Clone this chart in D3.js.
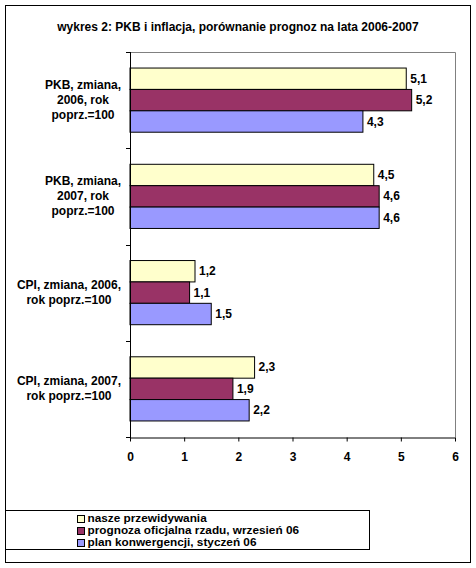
<!DOCTYPE html>
<html lang="pl">
<head>
  <meta charset="UTF-8">
  <title>wykres 2: PKB i inflacja</title>
  <script src="https://d3js.org/d3.v7.min.js"></script>
</head>
<body style="margin: 0; background: #fff;">
<svg id="chart" width="476" height="568"></svg>
<script>
  // data
  const categories = [
    ["PKB, zmiana,", "2006, rok", "poprz.=100"],
    ["PKB, zmiana,", "2007, rok", "poprz.=100"],
    ["CPI, zmiana, 2006,", "rok poprz.=100"],
    ["CPI, zmiana, 2007,", "rok poprz.=100"]
  ];
  const seriesNames = [
    "nasze przewidywania",
    "prognoza oficjalna rzadu, wrzesień 06",
    "plan konwergencji, styczeń 06"
  ];
  const nasze = [5.1, 4.5, 1.2, 2.3];
  const rzad = [5.2, 4.6, 1.1, 1.9];
  const konwergencja = [4.3, 4.6, 1.5, 2.2];
  const xTicks = [0, 1, 2, 3, 4, 5, 6];
  const colors = ["#FFFFCC", "#993366", "#9999FF"];

  const series = [nasze, rzad, konwergencja];
  const font = "Arial, 'Liberation Sans', sans-serif";
  const fs = "12px";

  const svg = d3.select("#chart");

  // outer frame
  svg.append("rect")
    .attr("x", 5.5).attr("y", 5.5)
    .attr("width", 465).attr("height", 557)
    .attr("fill", "#fff").attr("stroke", "#000").attr("stroke-width", 1);

  svg.append("text")
    .attr("x", 238).attr("y", 31)
    .attr("text-anchor", "middle")
    .style("font-family", font).style("font-size", fs).style("font-weight", "bold")
    .text("wykres 2: PKB i inflacja, porównanie prognoz na lata 2006-2007");

  const plot = { left: 130, right: 455, top: 52, bottom: 437 };

  const x = d3.scaleLinear().domain([0, 6]).range([plot.left, plot.right]);
  const y = d3.scaleBand().domain(d3.range(categories.length))
    .range([plot.top, plot.bottom]).paddingInner(0).paddingOuter(0);
  const inner = d3.scaleBand().domain(d3.range(series.length))
    .range([0, y.bandwidth()]).paddingOuter(0.75).paddingInner(0);

  // plot area border (grey top/right)
  svg.append("path")
    .attr("d", `M${plot.left},${plot.top + 0.5}H${plot.right + 0.5}V${plot.bottom}`)
    .attr("fill", "none").attr("stroke", "#808080");

  // bars
  series.forEach((vals, si) => {
    svg.append("g").selectAll("rect")
      .data(vals)
      .enter().append("rect")
      .attr("x", x(0))
      .attr("y", (d, i) => y(i) + inner(si))
      .attr("width", d => x(d) - x(0))
      .attr("height", inner.bandwidth())
      .attr("fill", colors[si])
      .attr("stroke", "#000").attr("stroke-width", 1);

    svg.append("g").selectAll("text")
      .data(vals)
      .enter().append("text")
      .attr("x", d => x(d) + 4)
      .attr("y", (d, i) => y(i) + inner(si) + inner.bandwidth() / 2 + 4)
      .style("font-family", font).style("font-size", fs).style("font-weight", "bold")
      .text(d => d.toFixed(1).replace(".", ","));
  });

  // x axis
  const xAxis = svg.append("g")
    .attr("transform", `translate(0,${plot.bottom + 0.5})`)
    .call(d3.axisBottom(x).tickValues(xTicks).tickSize(4).tickSizeOuter(0).tickPadding(11)
      .tickFormat(d3.format("d")));
  xAxis.select(".domain").attr("stroke", "#000");
  xAxis.selectAll("text")
    .style("font-family", font).style("font-size", fs).style("font-weight", "bold")
    .attr("fill", "#000");

  // y axis (category boundary ticks)
  const bounds = d3.range(categories.length + 1).map(i => plot.top + i * y.step());
  svg.append("line")
    .attr("x1", plot.left + 0.5).attr("x2", plot.left + 0.5)
    .attr("y1", plot.top).attr("y2", plot.bottom + 4)
    .attr("stroke", "#000");
  svg.append("g").selectAll("line")
    .data(bounds)
    .enter().append("line")
    .attr("x1", plot.left - 4).attr("x2", plot.left)
    .attr("y1", d => Math.round(d) + 0.5).attr("y2", d => Math.round(d) + 0.5)
    .attr("stroke", "#000");

  // category labels: block right-aligned near the axis, lines centred in block
  const labelRight = 121;
  categories.forEach((lines, i) => {
    const cy = y(i) + y.bandwidth() / 2;
    const lh = 15;
    const t = svg.append("text")
      .attr("text-anchor", "middle")
      .style("font-family", font).style("font-size", fs).style("font-weight", "bold");
    const spans = lines.map((ln, j) => t.append("tspan")
      .attr("y", cy + (j - (lines.length - 1) / 2) * lh + 4)
      .text(ln));
    const maxW = d3.max(spans, s => s.node().getComputedTextLength());
    spans.forEach(s => s.attr("x", labelRight - maxW / 2));
  });

  // legend (text is tight and a bit wide, like the original)
  svg.append("rect")
    .attr("x", 5.5).attr("y", 510.5)
    .attr("width", 364).attr("height", 39)
    .attr("fill", "#fff").attr("stroke", "#000");
  const legend = svg.append("g").selectAll("g")
    .data(seriesNames)
    .enter().append("g")
    .attr("transform", (d, i) => `translate(77,${522 + i * 12})`);
  legend.append("rect")
    .attr("x", 0.5).attr("y", -6.5).attr("width", 7).attr("height", 7)
    .attr("fill", (d, i) => colors[i]).attr("stroke", "#000");
  legend.append("text")
    .attr("transform", "translate(10.5,0) scale(1.18,1)")
    .style("font-family", font).style("font-size", "10px").style("font-weight", "bold")
    .text(d => d);
</script>
</body>
</html>
